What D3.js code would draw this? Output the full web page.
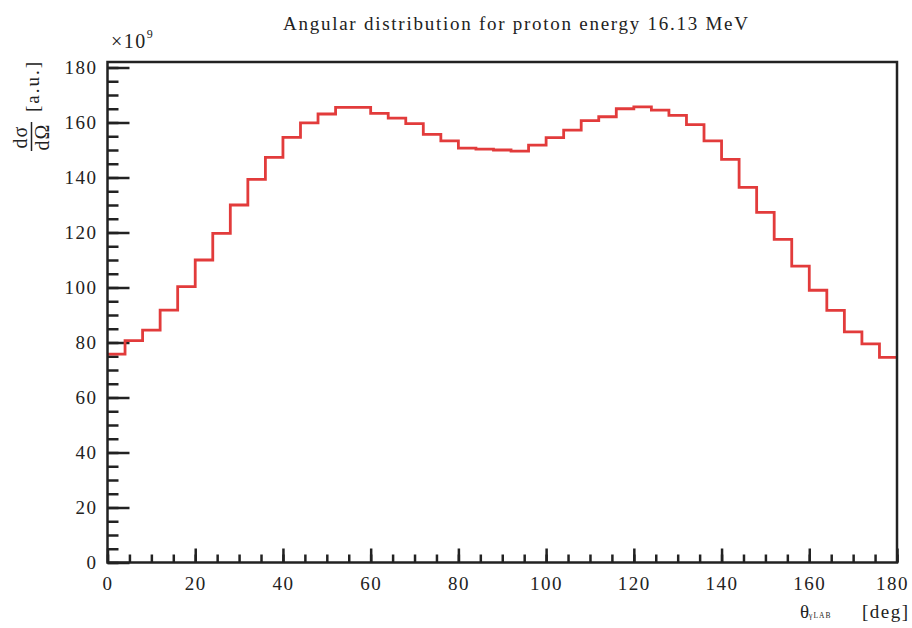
<!DOCTYPE html>
<html>
<head>
<meta charset="utf-8">
<script src="https://cdn.jsdelivr.net/npm/d3@7"></script>
<style>
	body { margin: 0; background: #fff; }
	text { font-family: 'Liberation Serif', 'DejaVu Serif', serif; fill: #222; }
</style>
</head>
<body>
<svg width="912" height="628"></svg>
<script>
// bin edges (deg) and histogram contents (x1e9, a.u.)
const binEdges = [0, 4, 8, 12, 16, 20, 24, 28, 32, 36, 40, 44, 48, 52, 56, 60, 64, 68, 72, 76, 80, 84, 88,
	92, 96, 100, 104, 108, 112, 116, 120, 124, 128, 132, 136, 140, 144, 148, 152, 156, 160, 164, 168, 172, 176, 180];
const counts = [75.8, 80.7, 84.5, 91.8, 100.3, 110, 119.7, 130, 139.3, 147.3, 154.6, 159.9, 163.1, 165.5, 165.5,
	163.3, 161.6, 159.6, 155.7, 153.3, 150.7, 150.3, 150, 149.6, 151.8, 154.5, 157.2, 160.7, 162.1, 165, 165.7,
	164.5, 162.6, 159.2, 153.3, 146.6, 136.4, 127.3, 117.5, 107.8, 99, 91.7, 83.9, 79.5, 74.6];
const xTicks = [0, 20, 40, 60, 80, 100, 120, 140, 160, 180];
const yTicks = [0, 20, 40, 60, 80, 100, 120, 140, 160, 180];

const svg = d3.select('svg');
const frame = {left: 107.5, right: 897, top: 62, bottom: 562.5};
const ink = '#222';
const serif = "'Liberation Serif', serif";

const xScale = d3.scaleLinear().domain([0, 180]).range([frame.left, frame.right]);
const yScale = d3.scaleLinear().domain([0, 182]).range([frame.bottom, frame.top]);

// minor ticks every 5
const xMinor = d3.axisBottom(xScale).tickValues(d3.range(0, 181, 5)).tickSize(-8).tickFormat('');
const xMajor = d3.axisBottom(xScale).tickValues(xTicks).tickSize(-14).tickPadding(14);
const yMinor = d3.axisLeft(yScale).tickValues(d3.range(0, 181, 5)).tickSize(-11).tickFormat('');
const yMajor = d3.axisLeft(yScale).tickValues(yTicks).tickSize(-22).tickPadding(10);

const styleAxis = g => {
	g.attr('font-family', serif);
	g.select('.domain').remove();
	g.selectAll('.tick line').attr('stroke', ink).attr('stroke-width', 2.5);
	g.selectAll('.tick text')
		.attr('font-family', serif)
		.attr('font-size', 19)
		.attr('letter-spacing', 1.5)
		.attr('fill', ink);
};

svg.append('g')
	.attr('transform', `translate(0, ${frame.bottom})`)
	.call(xMinor).call(styleAxis);
const xMajorG = svg.append('g')
	.attr('transform', `translate(0, ${frame.bottom})`)
	.call(xMajor).call(styleAxis);
// keep the last label inside the picture
xMajorG.selectAll('.tick text').filter(d => d === 180).attr('dx', -5);

[yMinor, yMajor].forEach(ax => svg.append('g')
	.attr('transform', `translate(${frame.left}, 0)`)
	.call(ax).call(styleAxis));

// histogram outline
const pts = counts.map((c, i) => [binEdges[i], c]);
pts.push([binEdges[binEdges.length - 1], counts[counts.length - 1]]);
const line = d3.line()
	.x(d => xScale(d[0]))
	.y(d => yScale(d[1]))
	.curve(d3.curveStepAfter);

svg.append('path')
	.datum(pts)
	.attr('d', line)
	.attr('fill', 'none')
	.attr('stroke', '#e23b3b')
	.attr('stroke-width', 2.8);

// frame
svg.append('rect')
	.attr('x', frame.left)
	.attr('y', frame.top)
	.attr('width', frame.right - frame.left)
	.attr('height', frame.bottom - frame.top)
	.attr('fill', 'none')
	.attr('stroke', ink)
	.attr('stroke-width', 2.5);

// title
svg.append('text')
	.attr('x', 283)
	.attr('y', 30)
	.attr('font-size', 19)
	.attr('textLength', 465)
	.attr('lengthAdjust', 'spacing')
	.text('Angular distribution for proton energy 16.13 MeV');

// exponent
const expo = svg.append('text')
	.attr('x', 111)
	.attr('y', 48)
	.attr('font-size', 20)
	.attr('letter-spacing', 1.5);
expo.append('tspan').text('\u00d710');
expo.append('tspan').attr('font-size', 12).attr('dy', -10).text('9');

// y label (rotated fraction)
const yl = svg.append('g').attr('transform', 'rotate(-90)');
yl.append('text').attr('x', -137).attr('y', 27).attr('text-anchor', 'middle')
	.attr('font-size', 20).attr('letter-spacing', 1).text('d\u03c3');
yl.append('line').attr('x1', -151).attr('x2', -122).attr('y1', 31.5).attr('y2', 31.5)
	.attr('stroke', ink).attr('stroke-width', 1.5);
yl.append('text').attr('x', -137).attr('y', 49).attr('text-anchor', 'middle')
	.attr('font-size', 20).attr('letter-spacing', 1).text('d\u03a9');
yl.append('text').attr('x', -112).attr('y', 39)
	.attr('font-size', 19).attr('letter-spacing', 2).text('[a.u.]');

// x label
const xl = svg.append('text')
	.attr('x', 800)
	.attr('y', 618)
	.attr('font-size', 19);
xl.append('tspan').text('\u03b8');
xl.append('tspan').attr('font-size', 7.5).attr('letter-spacing', 1).text('\u03b3LAB');
xl.append('tspan').attr('x', 862).attr('letter-spacing', 1.5).text('[deg]');
</script>
</body>
</html>
